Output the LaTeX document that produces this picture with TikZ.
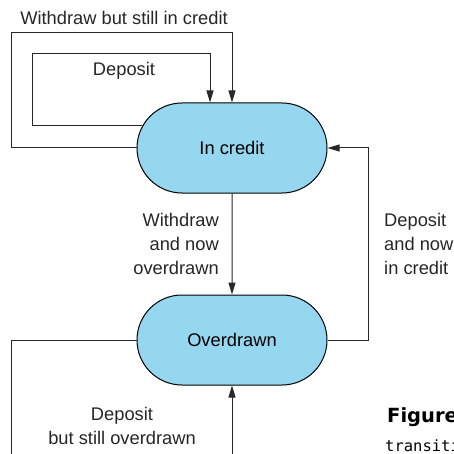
\documentclass[tikz,border=0pt]{standalone}
\usepackage{fontspec}
\setmainfont{Liberation Sans}
\newfontfamily\figfont{DejaVu Sans}
\newfontfamily\capfont{DejaVu Sans Mono}
\usepackage{xcolor}
\usetikzlibrary{arrows.meta,shapes.misc}
\definecolor{stateblue}{RGB}{150,215,240}
\definecolor{wire}{RGB}{40,40,40}

\begin{document}
\begin{tikzpicture}[x=1pt,y=-1pt,
  state/.style={rounded rectangle,draw=black,line width=1pt,fill=stateblue,
    minimum width=190pt,minimum height=90pt,inner sep=0pt,
    font=\fontsize{18.3}{22}\selectfont},
  flow/.style={draw=wire,line width=1pt,-{Triangle[length=12pt,width=7pt]}},
  lbl/.style={font=\fontsize{18.3}{24}\selectfont,text=black!85,inner sep=0pt}]
\useasboundingbox (0,0) rectangle (454,454);
\clip (0,0) rectangle (454,454);
% the two states
\node[state] (credit) at (232,148) {In credit};
\node[state] (over) at (232,340) {Overdrawn};
% turning points of the loops
\coordinate (deptop) at (210,54);
\coordinate (rturn) at (368,148);
% loops on In credit
\draw[flow] (credit.west) -| (11,33) -| (credit.north);
\draw[flow] (credit.166) -| (32,54) -| (credit.north -| deptop);
\node[lbl] (wcredit) at (124,18) {Withdraw but still in credit};
\node[lbl] (dcredit) at (124,71) {Deposit};
% between the states
\draw[flow] (credit) -- (over);
\node[lbl,align=right,anchor=east] (wover) at (219,244) {Withdraw\\and now\\overdrawn};
\draw[flow] (over.east) -| (rturn) -- (credit.east);
\node[lbl,align=left,anchor=west] (dback) at (384,244) {Deposit\\and now\\in credit};
% loop on Overdrawn
\draw[flow] (over.west) -| (11,490) -| (over.south);
\node[lbl,align=center] (dover) at (122,426) {Deposit\\but still overdrawn};
% caption, cut off at the edge
\node[inner sep=0pt,anchor=west,font=\figfont\bfseries\fontsize{19.5}{22}\selectfont] (figno) at (387,417) {Figure};
\node[inner sep=0pt,anchor=west,font=\capfont\fontsize{15.5}{18}\selectfont] (figcap) at (385,446) {transiti};
\end{tikzpicture}
\end{document}
